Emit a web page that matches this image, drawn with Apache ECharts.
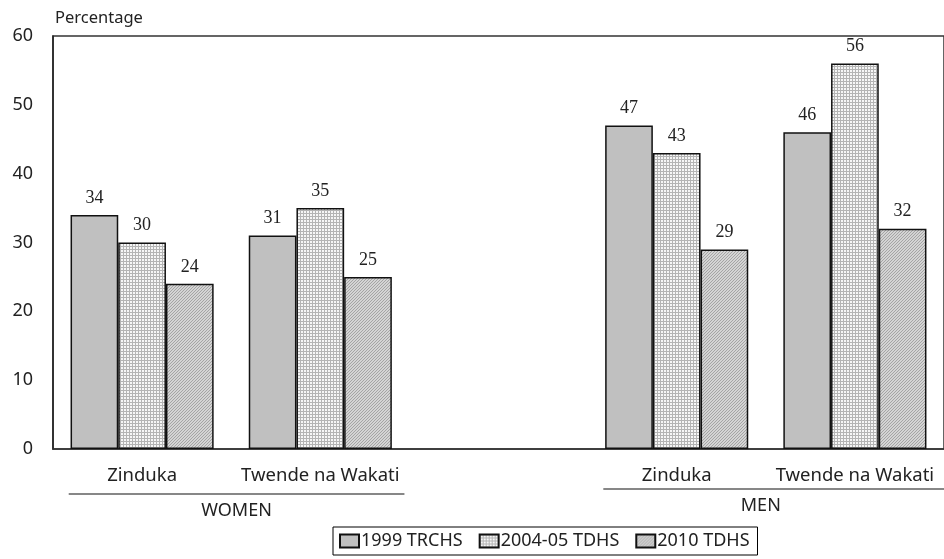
<!DOCTYPE html>
<html><head><meta charset="utf-8">
<script src="https://cdn.jsdelivr.net/npm/echarts@6/dist/echarts.min.js"></script>
<style>html,body{margin:0;padding:0;background:#fff}#c{width:944px;height:559px}</style>
</head><body><div id="c"></div>
<script>
const categories = ['Zinduka', 'Twende na Wakati', '', 'Zinduka', 'Twende na Wakati'];
const seriesNames = ['1999 TRCHS', '2004-05 TDHS', '2010 TDHS'];
const v1999 = [34, 31, null, 47, 46];
const v2004 = [30, 35, null, 43, 56];
const v2010 = [24, 25, null, 29, 32];
const yTicks = [0, 10, 20, 30, 40, 50, 60];
const groups = [{name: 'WOMEN', from: 0, to: 1}, {name: 'MEN', from: 3, to: 4}];

function gridPattern() {
  const c = document.createElement('canvas'); c.width = 3; c.height = 3;
  const x = c.getContext('2d');
  x.fillStyle = '#f6f6f6'; x.fillRect(0, 0, 3, 3);
  x.fillStyle = '#b4b4b4'; x.fillRect(0, 0, 3, 1); x.fillRect(0, 0, 1, 3);
  return c;
}
function hatchPattern() {
  const c = document.createElement('canvas'); c.width = 3; c.height = 3;
  const x = c.getContext('2d');
  x.fillStyle = '#d4d4d4'; x.fillRect(0, 0, 3, 3);
  x.fillStyle = '#a4a4a4';
  x.fillRect(2, 0, 1, 1); x.fillRect(1, 1, 1, 1); x.fillRect(0, 2, 1, 1);
  return c;
}
const fills = ['#c0c0c0', {image: gridPattern(), repeat: 'repeat'}, {image: hatchPattern(), repeat: 'repeat'}];
const values = [v1999, v2004, v2010];
const sansFont = 'Noto Sans';
const chart = echarts.init(document.getElementById('c'), null, {renderer: 'canvas'});
chart.setOption({
  animation: false,
  backgroundColor: '#fff',
  textStyle: {fontFamily: sansFont},
  title: {text: 'Percentage', left: 50, top: 5, textStyle: {fontFamily: sansFont, fontSize: 16.5, fontWeight: 'normal', color: '#222'}},
  grid: {left: 53, top: 36, width: 895, height: 413, show: true, borderColor: '#333', borderWidth: 1.5, containLabel: false},
  legend: {
    left: 333, top: 527, orient: 'horizontal',
    data: seriesNames,
    itemWidth: 19, itemHeight: 13, itemGap: 16,
    borderColor: '#000', borderWidth: 1, padding: [5, 8, 5, 6],
    textStyle: {fontFamily: sansFont, fontSize: 18, color: '#222', padding: [0, 0, 0, -3]},
    icon: 'rect'
  },
  xAxis: {
    type: 'category', data: categories,
    axisLine: {lineStyle: {color: '#333', width: 1.5}},
    axisTick: {show: false},
    axisLabel: {margin: 17, fontSize: 18.5, color: '#222', fontFamily: sansFont, interval: 0}
  },
  yAxis: {
    type: 'value', min: 0, max: 60, interval: 10,
    splitLine: {show: false},
    axisLine: {show: true, lineStyle: {color: '#222', width: 1.5}},
    axisTick: {show: false},
    axisLabel: {margin: 20, fontSize: 18, color: '#222', fontFamily: sansFont,
      formatter: v => yTicks.includes(v) ? String(v) : ''}
  },
  series: seriesNames.map((n, i) => ({
    name: n, type: 'bar', data: values[i],
    barWidth: 47.7, barGap: '0%',
    itemStyle: {color: fills[i], borderColor: '#111', borderWidth: 1.5},
    label: {show: true, position: 'top', distance: 8, fontFamily: 'Liberation Serif', fontSize: 18, color: '#222'}
  }))
});

const bw = 895 / categories.length;
const gfx = [];
groups.forEach((g, gi) => {
  const x0 = chart.convertToPixel({xAxisIndex: 0}, g.from);
  const x1 = chart.convertToPixel({xAxisIndex: 0}, g.to);
  const lx0 = x0 - bw * 0.41;
  const lx1 = gi === 0 ? x1 + bw * 0.47 : 960;
  const ly = gi === 0 ? 494 : 489;
  gfx.push({type: 'line', shape: {x1: lx0, y1: ly, x2: lx1, y2: ly}, style: {stroke: '#111', lineWidth: 1.2}});
  const tx = gi === 0 ? (lx0 + lx1) / 2 : (x0 + x1) / 2 - 5;
  gfx.push({type: 'text', x: tx, y: ly + 17, style: {text: g.name, font: '18px "Noto Sans"', fill: '#222', textAlign: 'center', textVerticalAlign: 'middle', align: 'center', verticalAlign: 'middle'}});
});
chart.setOption({graphic: gfx});
</script></body></html>
